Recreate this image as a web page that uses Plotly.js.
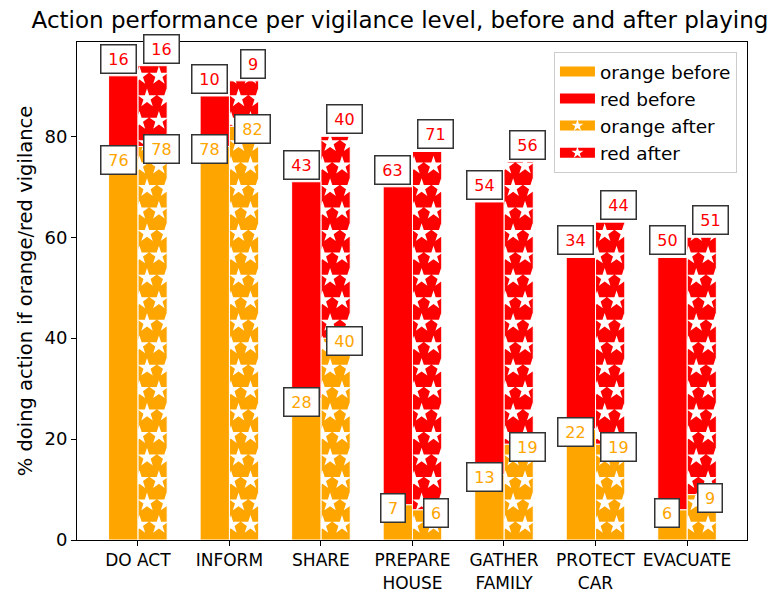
<!DOCTYPE html>
<html>
<head>
<meta charset="utf-8">
<script src="https://cdn.plot.ly/plotly-3.0.1.min.js"></script>
<style>html,body{margin:0;padding:0;background:#fff;}#chart{width:770px;height:592px;}</style>
</head>
<body>
<div id="chart"></div>
<script>
const categories = ['DO ACT', 'INFORM', 'SHARE', 'PREPARE<br>HOUSE', 'GATHER<br>FAMILY', 'PROTECT<br>CAR', 'EVACUATE'];
const orangeBefore = [76, 78, 28, 7, 13, 22, 6];
const redBefore = [16, 10, 43, 63, 54, 34, 50];
const orangeAfter = [78, 82, 40, 6, 19, 19, 9];
const redAfter = [16, 9, 40, 71, 56, 44, 51];
const seriesNames = ['orange before', 'red before', 'orange after', 'red after'];

const ORANGE = '#FFA500', RED = '#FF0000';
const W = 0.32;
const idx = categories.map((_, i) => i);
const XR = [-0.665, 6.655], YR = [0, 98.7];
const FONT = 'DejaVu Sans, Verdana, sans-serif';

const edge = {color: '#ffffff', width: 1};
const traces = [
  {type: 'bar', name: seriesNames[0], x: idx, y: orangeBefore, offset: -W, width: W, showlegend: false,
   marker: {color: ORANGE, line: edge}, xaxis: 'x2', yaxis: 'y2', hoverinfo: 'skip'},
  {type: 'bar', name: seriesNames[1], x: idx, y: redBefore, base: orangeBefore, offset: -W, width: W, showlegend: false,
   marker: {color: RED, line: edge}, xaxis: 'x2', yaxis: 'y2', hoverinfo: 'skip'},
  {type: 'bar', name: seriesNames[2], x: idx, y: orangeAfter, offset: 0, width: W, showlegend: false,
   marker: {color: ORANGE, line: edge}, hoverinfo: 'skip'},
  {type: 'bar', name: seriesNames[3], x: idx, y: redAfter, base: orangeAfter, offset: 0, width: W, showlegend: false,
   marker: {color: RED, line: edge}, hoverinfo: 'skip'}
];

// star hatch for the "after" bars (white stars, staggered)
const sx = [], sy = [];
idx.forEach(i => {
  const cx = i + W / 2;
  const top = orangeAfter[i] + redAfter[i];
  for (let k = 0; ; k++) {
    const yy = 3.0 + k * 4.45;
    if (yy > top + 1.3) break;
    const cols = (k % 2 === 0) ? [cx + 0.07, cx - 0.143] : [cx - 0.06, cx + 0.153];
    cols.forEach(c => { sx.push(c); sy.push(yy); });
  }
});
traces.push({type: 'scatter', mode: 'markers', x: sx, y: sy, showlegend: false, hoverinfo: 'skip',
  marker: {symbol: 'star', size: 14, color: '#ffffff', line: {width: 0}}});

// legend entries (wide swatches, star mark for the hatched series)
const legendColors = [ORANGE, RED, ORANGE, RED];
seriesNames.forEach((n, j) => {
  traces.push({type: 'scatter', name: n, x: [null], y: [null],
    mode: j < 2 ? 'lines' : 'lines+markers', hoverinfo: 'skip',
    line: {color: legendColors[j], width: 10},
    marker: {symbol: 'star', size: 9, color: '#ffffff', line: {width: 0}}});
});

const annotations = [];
function label(x, y, val, color, anchor, shift) {
  const s = String(val);
  annotations.push({x: x, y: y, xref: 'x', yref: 'y', text: s, showarrow: false,
    font: {family: FONT, size: 16, color: color},
    bgcolor: '#ffffff', bordercolor: '#333333', borderwidth: 1.5, borderpad: 3,
    width: s.length > 1 ? 28 : 17, height: 21,
    xanchor: 'center', yanchor: anchor, yshift: shift});
}
idx.forEach(i => {
  label(i - 0.215, orangeBefore[i], orangeBefore[i], ORANGE, 'middle', -3);
  label(i - 0.215, orangeBefore[i] + redBefore[i], redBefore[i], RED, 'bottom', 2);
  label(i + 0.255, orangeAfter[i], orangeAfter[i], ORANGE, 'middle', -3);
  label(i + 0.255, orangeAfter[i] + redAfter[i], redAfter[i], RED, 'bottom', 2);
});

const layout = {
  width: 770, height: 592,
  margin: {l: 77, r: 23, t: 42, b: 52},
  paper_bgcolor: '#ffffff', plot_bgcolor: '#ffffff',
  font: {family: FONT, size: 17, color: '#000000'},
  barmode: 'overlay',
  title: {text: 'Action performance per vigilance level, before and after playing',
    font: {family: FONT, size: 23, color: '#000000'},
    x: 400 / 770, xanchor: 'center', xref: 'container', y: 1 - 20 / 592, yanchor: 'middle', yref: 'container'},
  xaxis: {range: XR, tickvals: idx, ticktext: categories, ticks: 'outside', ticklen: 5, tickcolor: '#000',
    showline: true, mirror: true, linecolor: '#000', linewidth: 1, showgrid: false, zeroline: false,
    tickfont: {family: FONT, size: 17}, fixedrange: true},
  yaxis: {range: YR, dtick: 20, tick0: 0, ticks: 'outside', ticklen: 5, tickcolor: '#000',
    showline: true, mirror: true, linecolor: '#000', linewidth: 1, showgrid: false, zeroline: false,
    tickfont: {family: FONT, size: 18},
    title: {text: '% doing action if orange/red vigilance', font: {family: FONT, size: 19.5}, standoff: 6}},
  xaxis2: {range: XR, overlaying: 'x', visible: false, fixedrange: true},
  yaxis2: {range: YR, overlaying: 'y', visible: false, fixedrange: true},
  legend: {x: 0.985, y: 0.98, xanchor: 'right', yanchor: 'top', bgcolor: '#ffffff',
    bordercolor: '#cccccc', borderwidth: 1, font: {family: FONT, size: 18.5}, traceorder: 'normal',
    itemwidth: 35, tracegroupgap: 0},
  annotations: annotations,
  showlegend: true
};

Plotly.newPlot('chart', traces, layout, {displayModeBar: false, staticPlot: true});
</script>
</body>
</html>
